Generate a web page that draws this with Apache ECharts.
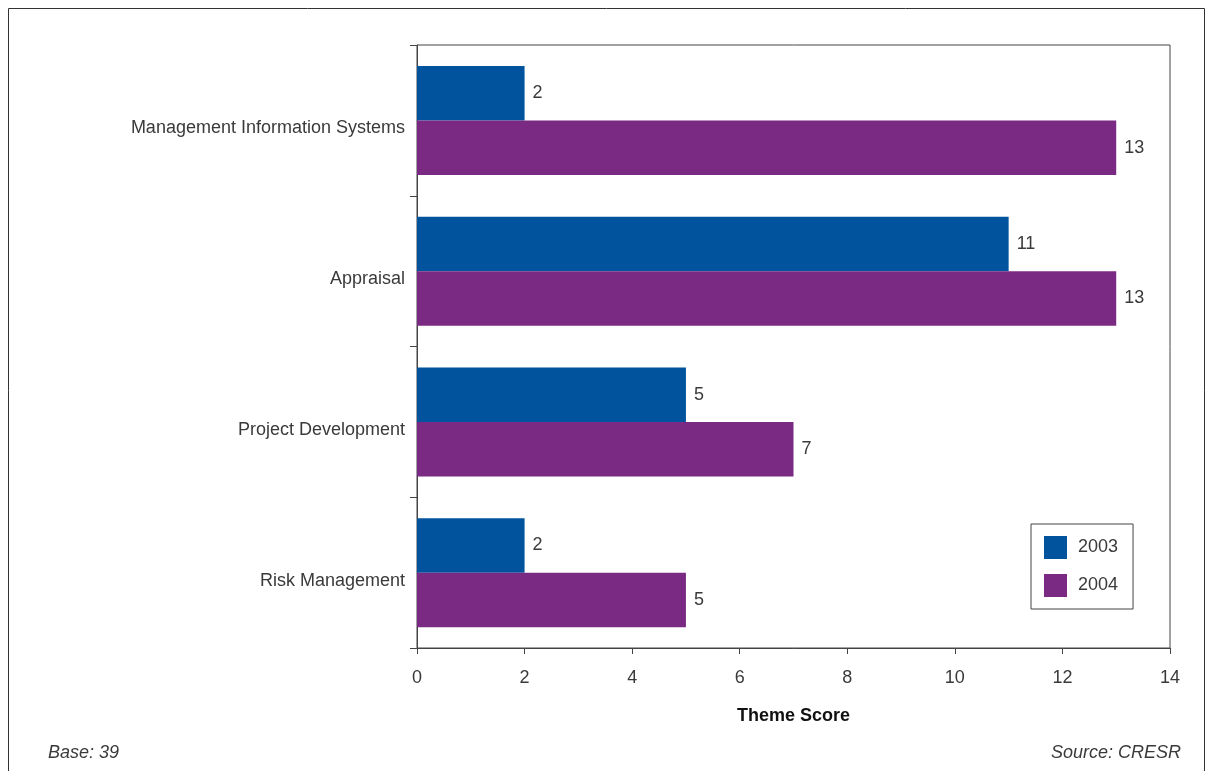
<!DOCTYPE html>
<html>
<head>
<meta charset="utf-8">
<style>
  html, body { margin: 0; padding: 0; background: #fff; }
  #chart { width: 1206px; height: 771px; }
</style>
<script src="https://cdn.jsdelivr.net/npm/echarts@6/dist/echarts.min.js"></script>
</head>
<body>
<div id="chart"></div>
<script>
// Theme scores by category, two survey years
const categories = ['Management Information Systems', 'Appraisal', 'Project Development', 'Risk Management'];
const values2003 = [2, 11, 5, 2];
const values2004 = [13, 13, 7, 5];
const seriesNames = ['2003', '2004'];
const xTicks = [0, 2, 4, 6, 8, 10, 12, 14];

const FONT = '"Liberation Sans", Arial, sans-serif';
const TEXT = '#3a3a3a';
const AXIS = '#444';
const COLORS = ['#00539C', '#7B2A83'];

const chart = echarts.init(document.getElementById('chart'));

const barLabel = {
  show: true,
  position: 'right',
  distance: 8,
  color: TEXT,
  fontSize: 18,
  fontFamily: FONT
};

chart.setOption({
  animation: false,
  textStyle: { fontFamily: FONT },
  grid: {
    left: 417, top: 45, right: 36, bottom: 123,
    show: true, borderColor: AXIS, borderWidth: 1, backgroundColor: 'transparent'
  },
  legend: {
    data: seriesNames,
    orient: 'vertical',
    left: 1031, top: 524,
    padding: [12, 15, 12, 13],
    itemWidth: 23, itemHeight: 23, itemGap: 15,
    borderColor: AXIS, borderWidth: 1,
    icon: 'rect',
    textStyle: { color: TEXT, fontSize: 18, fontFamily: FONT, padding: [0, 0, 0, 6] }
  },
  xAxis: {
    type: 'value',
    min: xTicks[0], max: xTicks[xTicks.length - 1], interval: 2,
    name: 'Theme Score',
    nameLocation: 'middle',
    nameGap: 59,
    nameTextStyle: { color: '#111', fontSize: 18, fontWeight: 'bold', fontFamily: FONT },
    axisLine: { show: true, lineStyle: { color: AXIS } },
    axisTick: { show: true, length: 6, lineStyle: { color: AXIS } },
    axisLabel: { color: TEXT, fontSize: 18, margin: 21, fontFamily: FONT },
    splitLine: { show: false }
  },
  yAxis: {
    type: 'category',
    data: categories,
    inverse: true,
    axisLine: { show: true, lineStyle: { color: AXIS } },
    axisTick: { show: true, length: 7, lineStyle: { color: AXIS } },
    // labels sit a little below the centre of each band
    axisLabel: {
      color: TEXT, fontSize: 18, margin: 12, fontFamily: FONT,
      verticalAlign: 'top', lineHeight: 16
    }
  },
  series: [
    {
      name: seriesNames[0], type: 'bar', data: values2003,
      itemStyle: { color: COLORS[0] },
      barWidth: 54.5, barGap: '0%',
      label: barLabel
    },
    {
      name: seriesNames[1], type: 'bar', data: values2004,
      itemStyle: { color: COLORS[1] },
      barWidth: 54.5, barGap: '0%',
      label: barLabel
    }
  ],
  graphic: [
    {
      type: 'rect',
      shape: { x: 8.5, y: 8.5, width: 1196, height: 780 },
      style: { fill: 'none', stroke: '#333', lineWidth: 1 },
      silent: true, z: -1
    },
    {
      type: 'text', left: 48, top: 744,
      style: { text: 'Base: 39', fill: TEXT, font: 'italic 18px ' + FONT }
    },
    {
      type: 'text', right: 25, top: 744,
      style: { text: 'Source: CRESR', fill: TEXT, font: 'italic 18px ' + FONT }
    }
  ]
});
</script>
</body>
</html>
